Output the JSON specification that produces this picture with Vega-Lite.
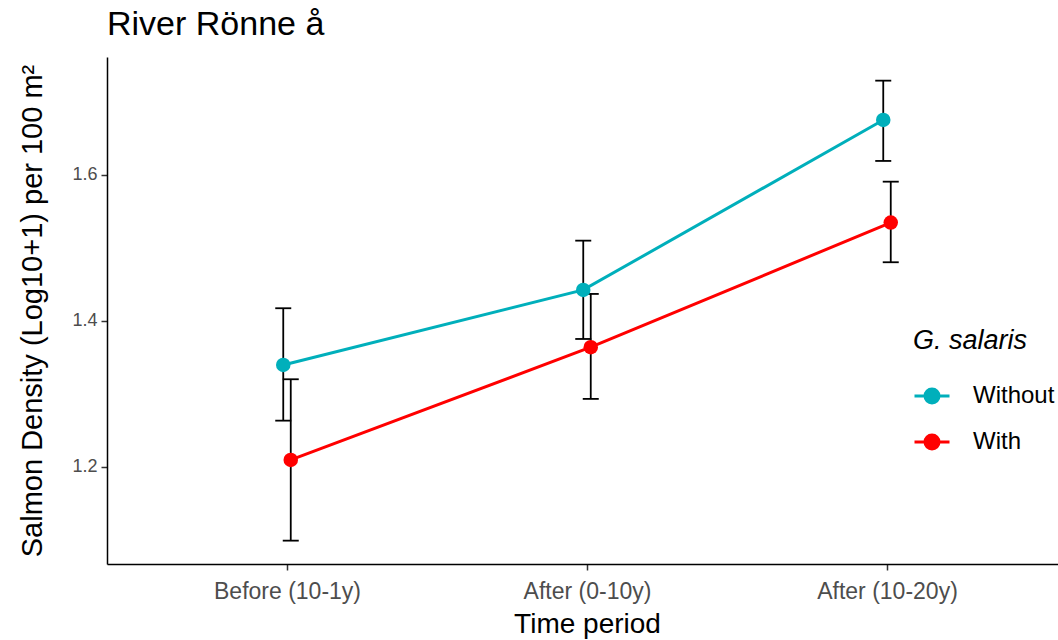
{
  "$schema": "https://vega.github.io/schema/vega-lite/v6.json",
  "autosize": {"type": "none"},
  "width": 951,
  "height": 507,
  "padding": {"left": 107, "top": 57, "right": 0, "bottom": 76},
  "background": "white",
  "title": {"text": "River Rönne å", "anchor": "start", "frame": "group", "font": "Liberation Sans", "fontSize": 34, "fontWeight": "normal", "color": "black", "offset": 15},
  "config": {"view": {"stroke": null}, "font": "Liberation Sans"},
  "data": {"values": [
    {"period": "Before (10-1y)", "gs": "Without", "mean": 1.3397, "lo": 1.2634, "hi": 1.4174},
    {"period": "Before (10-1y)", "gs": "With", "mean": 1.2096, "lo": 1.0990, "hi": 1.3201},
    {"period": "After (0-10y)", "gs": "Without", "mean": 1.4425, "lo": 1.3753, "hi": 1.5100},
    {"period": "After (0-10y)", "gs": "With", "mean": 1.3640, "lo": 1.2932, "hi": 1.4370},
    {"period": "After (10-20y)", "gs": "Without", "mean": 1.6753, "lo": 1.6192, "hi": 1.7292},
    {"period": "After (10-20y)", "gs": "With", "mean": 1.5347, "lo": 1.4804, "hi": 1.5908}
  ]},
  "encoding": {
    "x": {"field": "period", "type": "nominal", "sort": ["Before (10-1y)", "After (0-10y)", "After (10-20y)"],
      "scale": {"type": "point", "range": [0, 960], "padding": 0.6},
      "axis": {"title": "Time period", "titleFont": "Liberation Sans", "titleFontSize": 28, "titleFontWeight": "normal", "titleColor": "black", "titlePadding": 7,
        "labelFont": "Liberation Sans", "labelFontSize": 23, "labelColor": "#4D4D4D", "labelAngle": 0, "labelPadding": 10,
        "domainColor": "black", "domainWidth": 1.5, "tickColor": "#333333", "tickWidth": 1.5, "tickSize": 6, "grid": false}},
    "xOffset": {"field": "gs", "type": "nominal", "scale": {"type": "point", "domain": ["Without", "With"], "range": [-7.5, 7.5]}}
  },
  "layer": [
    {"mark": {"type": "rule", "color": "black", "strokeWidth": 1.8},
     "encoding": {
       "y": {"field": "lo", "type": "quantitative", "scale": {"domain": [1.067, 1.7616], "nice": false, "zero": false},
         "axis": {"title": "Salmon Density (Log10+1) per 100 m²", "titleFont": "Liberation Sans", "titleFontSize": 29, "titleFontWeight": "normal", "titleColor": "black", "titlePadding": 24,
           "values": [1.2, 1.4, 1.6], "format": ".1f", "labelFont": "Liberation Sans", "labelFontSize": 18, "labelColor": "#4D4D4D", "labelPadding": 4,
           "domainColor": "black", "domainWidth": 1.5, "tickColor": "#333333", "tickWidth": 1.5, "tickSize": 6, "grid": false}},
       "y2": {"field": "hi"}
     }},
    {"mark": {"type": "tick", "color": "black", "thickness": 1.8, "size": 16, "opacity": 1},
     "encoding": {"y": {"field": "lo", "type": "quantitative"}}},
    {"mark": {"type": "tick", "color": "black", "thickness": 1.8, "size": 16, "opacity": 1},
     "encoding": {"y": {"field": "hi", "type": "quantitative"}}},
    {"mark": {"type": "line", "strokeWidth": 3},
     "encoding": {
       "y": {"field": "mean", "type": "quantitative"},
       "color": {"field": "gs", "type": "nominal", "scale": {"domain": ["Without", "With"], "range": ["#00AFBB", "#FF0000"]}}
     }},
    {"mark": {"type": "point", "filled": true, "size": 210, "opacity": 1},
     "encoding": {
       "y": {"field": "mean", "type": "quantitative"},
       "color": {"field": "gs", "type": "nominal", "scale": {"domain": ["Without", "With"], "range": ["#00AFBB", "#FF0000"]},
         "legend": {"title": "G. salaris", "orient": "none", "legendX": 806, "legendY": 271, "padding": 0,
           "titleFont": "Liberation Sans", "titleFontSize": 27, "titleFontStyle": "italic", "titleFontWeight": "normal", "titleColor": "black", "titlePadding": 22,
           "labelFont": "Liberation Sans", "labelFontSize": 24, "labelColor": "black", "labelOffset": 22,
           "symbolType": "M -1 0 L 1 0 M -0.4 0 A 0.4 0.4 0 1 1 0.4 0 A 0.4 0.4 0 1 1 -0.4 0 Z",
           "symbolSize": 1225, "symbolStrokeWidth": 3, "rowPadding": 14,
           "encode": {"symbols": {"update": {"fill": {"scale": "color", "field": "value"}, "stroke": {"scale": "color", "field": "value"}, "opacity": {"value": 1}}}}}}
     }}
  ]
}
